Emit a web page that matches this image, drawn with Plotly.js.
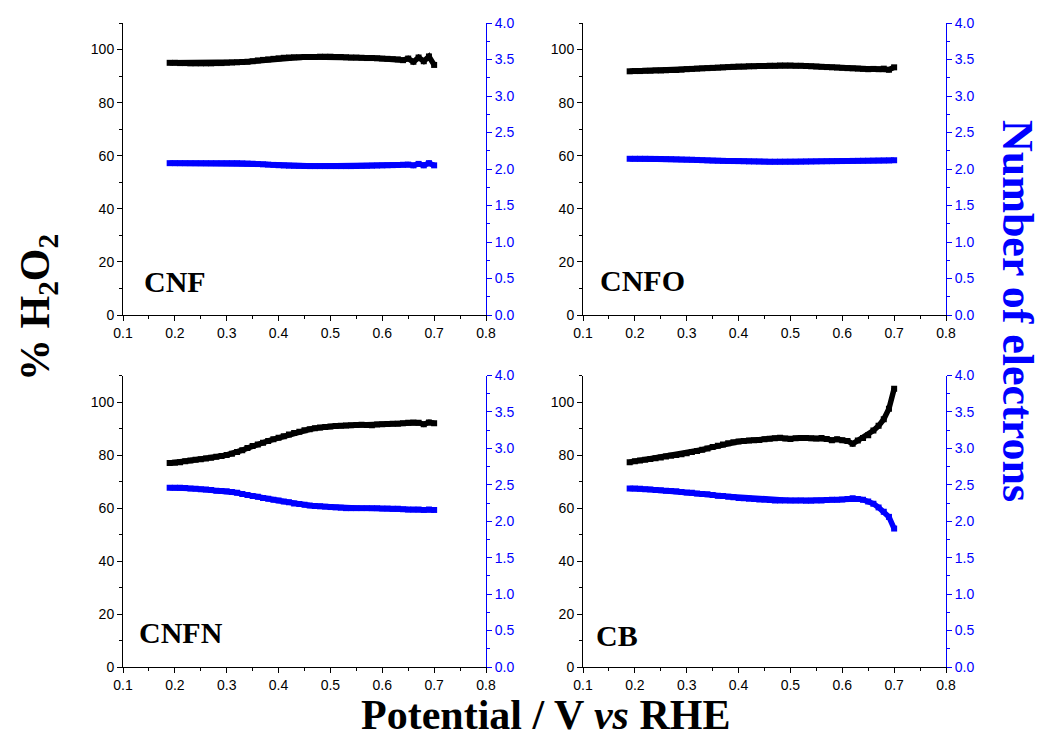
<!DOCTYPE html>
<html>
<head>
<meta charset="utf-8">
<script src="https://cdn.plot.ly/plotly-3.0.1.min.js"></script>
<style>html,body{margin:0;padding:0;background:#fff;}#chart{width:1043px;height:740px;}</style>
</head>
<body>
<div id="chart"></div>
<script>
// Potential (V vs RHE)
const potential = [0.19,0.20,0.21,0.22,0.23,0.24,0.25,0.26,0.27,0.28,0.29,0.30,0.31,0.32,0.33,0.34,0.35,0.36,0.37,0.38,0.39,0.40,0.41,0.42,0.43,0.44,0.45,0.46,0.47,0.48,0.49,0.50,0.51,0.52,0.53,0.54,0.55,0.56,0.57,0.58,0.59,0.60,0.61,0.62,0.63,0.64,0.65,0.66,0.67,0.68,0.69,0.70];

const panelNames = ["CNF", "CNFO", "CNFN", "CB"];

// % H2O2
const h2o2_CNF  = [95.0,95.0,94.9,94.9,94.8,94.8,94.8,94.8,94.8,94.9,94.9,95.0,95.1,95.2,95.3,95.4,95.6,95.9,96.1,96.3,96.5,96.7,96.9,97.0,97.1,97.1,97.2,97.2,97.2,97.3,97.3,97.3,97.2,97.2,97.1,97.0,97.0,96.9,96.8,96.8,96.7,96.6,96.5,96.4,96.3,96.0,96.6,95.4,97.0,95.6,97.4,94.2];
const h2o2_CNFO = [91.8,91.9,91.9,92.0,92.0,92.1,92.1,92.2,92.3,92.3,92.4,92.6,92.7,92.8,92.9,93.0,93.1,93.2,93.3,93.4,93.5,93.6,93.6,93.7,93.7,93.8,93.8,93.9,93.9,94.0,94.0,94.0,93.9,93.9,93.8,93.7,93.6,93.5,93.4,93.3,93.2,93.1,93.0,92.9,92.8,92.7,92.6,92.7,92.6,92.8,92.4,93.3];
const h2o2_CNFN = [77.0,77.1,77.3,77.6,77.9,78.2,78.4,78.7,79.0,79.3,79.6,80.0,80.5,81.1,81.8,82.6,83.4,84.0,84.6,85.3,85.9,86.5,87.1,87.7,88.3,88.8,89.3,89.7,90.1,90.4,90.6,90.8,90.9,91.0,91.1,91.2,91.3,91.4,91.3,91.2,91.5,91.6,91.7,91.8,91.8,92.0,92.2,92.3,92.2,91.6,92.3,92.0];
const h2o2_CB   = [77.3,77.6,77.9,78.2,78.5,78.8,79.1,79.4,79.7,80.0,80.3,80.7,81.1,81.5,82.0,82.5,83.0,83.5,84.0,84.4,84.8,85.1,85.3,85.5,85.6,85.7,85.9,86.1,86.3,86.5,86.2,86.0,86.3,86.4,86.4,86.3,86.2,86.4,86.0,85.6,85.9,85.6,85.3,84.2,85.5,86.4,87.5,89.2,91.0,93.5,97.5,105.0];

// Number of electrons
const n_CNF  = [2.08,2.08,2.08,2.08,2.08,2.08,2.08,2.08,2.08,2.08,2.08,2.08,2.08,2.08,2.078,2.075,2.072,2.068,2.064,2.06,2.056,2.052,2.048,2.045,2.043,2.042,2.041,2.040,2.040,2.040,2.040,2.040,2.040,2.040,2.040,2.040,2.041,2.042,2.043,2.045,2.047,2.049,2.051,2.053,2.055,2.058,2.06,2.05,2.07,2.05,2.08,2.05];
const n_CNFO = [2.14,2.14,2.14,2.14,2.139,2.138,2.137,2.136,2.135,2.133,2.131,2.129,2.127,2.124,2.121,2.118,2.115,2.113,2.111,2.110,2.109,2.108,2.106,2.104,2.103,2.102,2.101,2.100,2.100,2.100,2.100,2.100,2.100,2.101,2.102,2.103,2.104,2.105,2.106,2.107,2.108,2.109,2.110,2.111,2.112,2.113,2.114,2.115,2.116,2.117,2.118,2.12];
const n_CNFN = [2.46,2.46,2.46,2.455,2.45,2.445,2.44,2.435,2.43,2.42,2.415,2.41,2.40,2.39,2.375,2.36,2.345,2.335,2.32,2.31,2.295,2.285,2.27,2.26,2.245,2.235,2.225,2.215,2.21,2.205,2.20,2.195,2.19,2.185,2.18,2.18,2.18,2.18,2.18,2.18,2.18,2.175,2.175,2.17,2.17,2.165,2.16,2.16,2.16,2.155,2.16,2.155];
const n_CB   = [2.45,2.45,2.445,2.44,2.435,2.43,2.425,2.42,2.415,2.41,2.40,2.395,2.39,2.38,2.375,2.37,2.36,2.35,2.345,2.335,2.33,2.32,2.315,2.31,2.305,2.30,2.295,2.29,2.285,2.285,2.285,2.285,2.285,2.285,2.28,2.28,2.285,2.285,2.29,2.295,2.295,2.30,2.305,2.315,2.305,2.295,2.27,2.24,2.19,2.13,2.06,1.90];

const h2o2Series = [h2o2_CNF, h2o2_CNFO, h2o2_CNFN, h2o2_CB];
const nSeries = [n_CNF, n_CNFO, n_CNFN, n_CB];

const W = 1043, H = 740;
const xDomains = [[123/W, 486/W], [583/W, 946/W], [123/W, 486/W], [583/W, 946/W]];
const yDomains = [[(H-315)/H, (H-23)/H], [(H-315)/H, (H-23)/H], [(H-667)/H, (H-375.5)/H], [(H-667)/H, (H-375.5)/H]];
const labelPos = [[142, 281], [598, 280], [137, 632], [594, 635]];

const traces = [];
const layout = {
  width: W, height: H,
  margin: {l: 0, r: 0, t: 0, b: 0},
  paper_bgcolor: '#fff', plot_bgcolor: 'rgba(0,0,0,0)',
  showlegend: false,
  annotations: []
};

const tickFont = {family: 'Liberation Sans, Arial, sans-serif', size: 14, color: '#000'};
const blue = '#0000ff';

for (let i = 0; i < 4; i++) {
  const xa = 'x' + (i + 1);
  const yl = 'y' + (2 * i + 1);
  const yr = 'y' + (2 * i + 2);
  traces.push({
    x: potential, y: h2o2Series[i], xaxis: xa, yaxis: yl,
    type: 'scatter', mode: 'lines+markers',
    line: {color: '#000', width: 5.5},
    marker: {symbol: 'square', size: 6, color: '#000'}
  });
  traces.push({
    x: potential, y: nSeries[i], xaxis: xa, yaxis: yr,
    type: 'scatter', mode: 'lines+markers',
    line: {color: blue, width: 5.5},
    marker: {symbol: 'square', size: 6, color: blue}
  });
  const xk = 'xaxis' + (i + 1);
  const ylk = 'yaxis' + (2 * i + 1);
  const yrk = 'yaxis' + (2 * i + 2);
  layout[xk] = {
    domain: xDomains[i], anchor: yl, range: [0.1, 0.8],
    tick0: 0.1, dtick: 0.1, tickformat: '.1f',
    ticks: 'outside', ticklen: 5, tickwidth: 1, tickcolor: '#000',
    minor: {dtick: 0.05, tick0: 0.1, ticks: 'outside', ticklen: 3, tickcolor: '#000', tickwidth: 1},
    showline: true, linecolor: '#000', linewidth: 1,
    showgrid: false, zeroline: false, tickfont: tickFont, fixedrange: true
  };
  layout[ylk] = {
    domain: yDomains[i], anchor: xa, range: [0, 110],
    tick0: 0, dtick: 20,
    ticks: 'outside', ticklen: 5, tickwidth: 1, tickcolor: '#000',
    minor: {dtick: 10, tick0: 0, ticks: 'outside', ticklen: 3, tickcolor: '#000', tickwidth: 1},
    showline: true, linecolor: '#000', linewidth: 1,
    showgrid: false, zeroline: false, tickfont: tickFont, fixedrange: true
  };
  layout[yrk] = {
    overlaying: yl, anchor: xa, side: 'right', range: [0, 4],
    tick0: 0, dtick: 0.5, tickformat: '.1f',
    ticks: 'outside', ticklen: 5, tickwidth: 1, tickcolor: blue,
    minor: {dtick: 0.25, tick0: 0, ticks: 'outside', ticklen: 3, tickcolor: blue, tickwidth: 1},
    showline: true, linecolor: blue, linewidth: 1,
    showgrid: false, zeroline: false,
    tickfont: {family: 'Liberation Sans, Arial, sans-serif', size: 14, color: blue}, fixedrange: true
  };
  layout.annotations.push({
    text: '<b>' + panelNames[i] + '</b>', xref: 'paper', yref: 'paper',
    x: labelPos[i][0] / W, y: 1 - labelPos[i][1] / H, xanchor: 'left', yanchor: 'middle',
    showarrow: false, font: {family: 'Liberation Serif, Times New Roman, serif', size: 30, color: '#000'}
  });
}

layout.annotations.push({
  text: '<b>% H<sub>2</sub>O<sub>2</sub></b>', xref: 'paper', yref: 'paper',
  x: 38 / W, y: 1 - 308 / H, xanchor: 'center', yanchor: 'middle', textangle: -90,
  showarrow: false, font: {family: 'Liberation Serif, Times New Roman, serif', size: 42, color: '#000'}
});
layout.annotations.push({
  text: '<b>Number of electrons</b>', xref: 'paper', yref: 'paper',
  x: 1018 / W, y: 1 - 311 / H, xanchor: 'center', yanchor: 'middle', textangle: 90,
  showarrow: false, font: {family: 'Liberation Serif, Times New Roman, serif', size: 44, color: blue}
});
layout.annotations.push({
  text: '<b>Potential / V <i>vs</i> RHE</b>', xref: 'paper', yref: 'paper',
  x: 545 / W, y: 1 - 715 / H, xanchor: 'center', yanchor: 'middle',
  showarrow: false, font: {family: 'Liberation Serif, Times New Roman, serif', size: 42, color: '#000'}
});

Plotly.newPlot('chart', traces, layout, {displayModeBar: false, staticPlot: true});
</script>
</body>
</html>
